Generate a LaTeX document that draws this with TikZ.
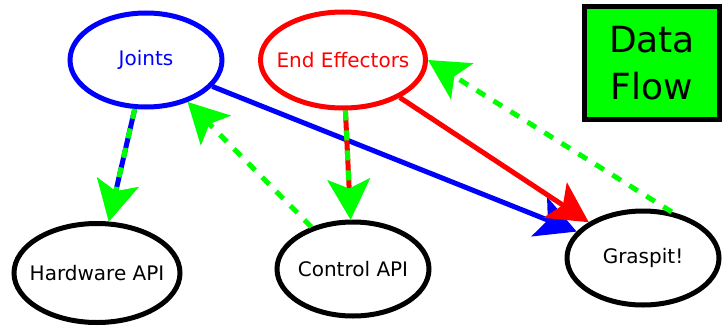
\documentclass[tikz,border=0pt]{standalone}
\usepackage{fontspec}
\setmainfont{DejaVu Sans}
\usetikzlibrary{arrows.meta,shapes.geometric}
\definecolor{jointblue}{RGB}{0,0,255}
\definecolor{effred}{RGB}{255,0,0}
\definecolor{flowgreen}{RGB}{0,255,0}
% text that does not widen its ellipse
\newcommand{\nlabel}[1]{\makebox[0pt]{#1}}

\begin{document}
\begin{tikzpicture}[x=1pt,y=-1pt,
  font=\fontsize{20}{24}\selectfont,
  blob/.style={ellipse,draw,line width=5pt,inner sep=0pt,minimum width=152pt,minimum height=94pt},
  link/.style={line width=5pt},
  flowdash/.style={dash pattern=on 10pt off 10pt},
  bigtip/.style={-{Stealth[length=40pt,width=42pt,inset=9pt,#1]}},
  bigtip/.default={}]
  \useasboundingbox (0,0) rectangle (722,329);

  % ===== sources =====
  \node[blob,jointblue] (joints) at (146,60) {\nlabel{Joints}};
  \node[blob,effred,minimum width=165pt,minimum height=96pt] (endeff) at (343,60) {\nlabel{End Effectors}};

  % ===== consumers =====
  \node[blob,minimum width=166pt,minimum height=99pt] (hwapi) at (97,273) {\nlabel{Hardware API}};
  \node[blob] (ctrlapi) at (353,269) {\nlabel{Control API}};
  \node[blob] (graspit) at (643,258) {\nlabel{Graspit!}};

  % legend box
  \node[draw,line width=5pt,fill=flowgreen,minimum width=135pt,minimum height=113pt,
        inner sep=0pt,align=center,font=\fontsize{36}{47}\selectfont] (legend) at (652,63) {Data\\Flow};

  % ===== edges (blue first, dashed ones on top) =====
  \draw[link,jointblue,bigtip] (joints) -- (graspit);
  \draw[link,jointblue,bigtip=flowgreen] (joints) -- (hwapi);
  \draw[link,flowgreen,flowdash,bigtip] (joints) -- (hwapi);
  \draw[link,effred,bigtip=flowgreen] (endeff) -- (ctrlapi);
  \draw[link,flowgreen,flowdash,bigtip] (endeff) -- (ctrlapi);
  \draw[link,effred,bigtip] (endeff) -- (graspit);

  % feedback
  \draw[link,flowgreen,flowdash,bigtip] (ctrlapi) -- (joints);
  \draw[link,flowgreen,flowdash,bigtip] (graspit.58) -- (endeff.east);
\end{tikzpicture}
\end{document}
